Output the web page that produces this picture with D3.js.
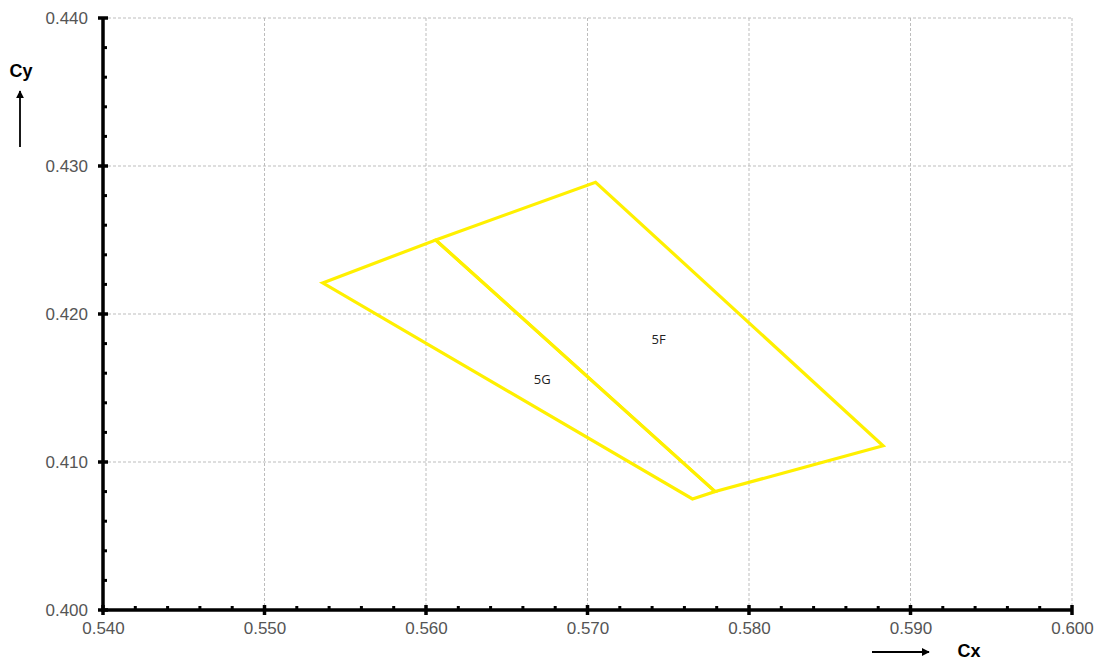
<!DOCTYPE html>
<html>
<head>
<meta charset="utf-8">
<script src="https://cdn.jsdelivr.net/npm/d3@7"></script>
<style>
  body { margin: 0; background: #fff; }
  svg { display: block; }
</style>
</head>
<body>
<div id="chart"></div>
<script>
// tick values for both axes
var xTicks = [0.540, 0.550, 0.560, 0.570, 0.580, 0.590, 0.600];
var yTicks = [0.400, 0.410, 0.420, 0.430, 0.440];

// region corners (Cx, Cy)
var region5G = [[0.5536, 0.4221], [0.5606, 0.4250], [0.5779, 0.4080], [0.5765, 0.4075]];
var region5F = [[0.5606, 0.4250], [0.5705, 0.4289], [0.5883, 0.4111], [0.5779, 0.4080]];
var regionNames = ["5G", "5F"];
var labelPos = [[0.5672, 0.4155], [0.5744, 0.4182]];

drawChart();

function drawChart() {
  var W = 1101, H = 661;
  var pLeft = 103, pRight = 1072, pTop = 18, pBottom = 610;

  var svg = d3.select("#chart").append("svg").attr("width", W).attr("height", H);

  var x = d3.scaleLinear().domain([0.540, 0.600]).range([pLeft, pRight]);
  var y = d3.scaleLinear().domain([0.400, 0.440]).range([pBottom, pTop]);

  // grid lines
  svg.append("g").selectAll("line").data(xTicks.slice(1))
    .enter().append("line")
    .attr("x1", d => x(d)).attr("x2", d => x(d))
    .attr("y1", pTop).attr("y2", pBottom)
    .style("stroke", "#bdbdbd").style("stroke-width", 1).style("stroke-dasharray", "3,2");
  svg.append("g").selectAll("line").data(yTicks.slice(1))
    .enter().append("line")
    .attr("x1", pLeft).attr("x2", pRight)
    .attr("y1", d => y(d)).attr("y2", d => y(d))
    .style("stroke", "#bdbdbd").style("stroke-width", 1).style("stroke-dasharray", "3,2");

  // regions
  var line = d3.line().x(d => x(d[0])).y(d => y(d[1]));
  [region5G, region5F].forEach(function(r) {
    svg.append("path")
      .attr("d", line(r) + "Z")
      .style("fill", "none")
      .style("stroke", "#fff000")
      .style("stroke-width", 3.2)
      .style("stroke-linejoin", "miter");
  });

  svg.append("g").selectAll("text").data(regionNames)
    .enter().append("text")
    .attr("x", (d, i) => x(labelPos[i][0]))
    .attr("y", (d, i) => y(labelPos[i][1]))
    .attr("text-anchor", "middle")
    .attr("dominant-baseline", "middle")
    .style("font-family", "'Open Sans', sans-serif")
    .style("font-size", "13px")
    .style("fill", "#222")
    .text(d => d);

  // axes
  var xAxis = d3.axisBottom(x).tickValues(xTicks).tickFormat(d3.format(".3f")).tickSize(0).tickPadding(15);
  var yAxis = d3.axisLeft(y).tickValues(yTicks).tickFormat(d3.format(".3f")).tickSize(0).tickPadding(15);

  var gx = svg.append("g").attr("transform", "translate(0," + pBottom + ")").call(xAxis);
  var gy = svg.append("g").attr("transform", "translate(" + pLeft + ",0)").call(yAxis);
  [gx, gy].forEach(function(g) {
    g.select(".domain").remove();
    g.selectAll("text")
      .style("font-family", "'Liberation Sans', Arial, sans-serif")
      .style("font-size", "17px")
      .style("fill", "#555");
  });
  gx.selectAll("text").attr("dy", "0.55em");

  // minor ticks
  var xMinor = d3.range(0.542, 0.600, 0.002).filter(v => Math.abs(v * 100 - Math.round(v * 100)) > 1e-6);
  var yMinor = d3.range(0.402, 0.440, 0.002).filter(v => Math.abs(v * 100 - Math.round(v * 100)) > 1e-6);
  svg.append("g").selectAll("line").data(xMinor)
    .enter().append("line")
    .attr("x1", d => x(d)).attr("x2", d => x(d))
    .attr("y1", pBottom - 4).attr("y2", pBottom)
    .style("stroke", "#000").style("stroke-width", 3);
  svg.append("g").selectAll("line").data(yMinor)
    .enter().append("line")
    .attr("x1", pLeft).attr("x2", pLeft + 4)
    .attr("y1", d => y(d)).attr("y2", d => y(d))
    .style("stroke", "#000").style("stroke-width", 3);

  // major ticks
  svg.append("g").selectAll("line").data(xTicks)
    .enter().append("line")
    .attr("x1", d => x(d)).attr("x2", d => x(d))
    .attr("y1", pBottom - 5).attr("y2", pBottom + 5)
    .style("stroke", "#000").style("stroke-width", 3.5);
  svg.append("g").selectAll("line").data(yTicks)
    .enter().append("line")
    .attr("x1", pLeft - 5).attr("x2", pLeft + 5)
    .attr("y1", d => y(d)).attr("y2", d => y(d))
    .style("stroke", "#000").style("stroke-width", 3.5);

  // axis lines
  svg.append("line").attr("x1", pLeft).attr("x2", pLeft).attr("y1", pTop).attr("y2", pBottom + 1.5)
    .style("stroke", "#000").style("stroke-width", 3.5);
  svg.append("line").attr("x1", pLeft - 1.5).attr("x2", pRight).attr("y1", pBottom).attr("y2", pBottom)
    .style("stroke", "#000").style("stroke-width", 3.5);

  // axis titles with arrows
  svg.append("defs").append("marker")
    .attr("id", "arr").attr("viewBox", "0 0 10 10").attr("refX", 9).attr("refY", 5)
    .attr("markerWidth", 4.5).attr("markerHeight", 4.5).attr("orient", "auto")
    .append("path").attr("d", "M0,0L10,5L0,10Z").style("fill", "#000");

  svg.append("line").attr("x1", 20).attr("x2", 20).attr("y1", 147).attr("y2", 91)
    .style("stroke", "#000").style("stroke-width", 1.8).attr("marker-end", "url(#arr)");
  svg.append("text").attr("x", 21).attr("y", 77).attr("text-anchor", "middle")
    .style("font-family", "'Liberation Sans', Arial, sans-serif")
    .style("font-size", "18px").style("font-weight", "bold").text("Cy");

  svg.append("line").attr("x1", 872).attr("x2", 929).attr("y1", 652).attr("y2", 652)
    .style("stroke", "#000").style("stroke-width", 1.8).attr("marker-end", "url(#arr)");
  svg.append("text").attr("x", 969).attr("y", 657).attr("text-anchor", "middle")
    .style("font-family", "'Liberation Sans', Arial, sans-serif")
    .style("font-size", "18px").style("font-weight", "bold").text("Cx");
}
</script>
</body>
</html>
